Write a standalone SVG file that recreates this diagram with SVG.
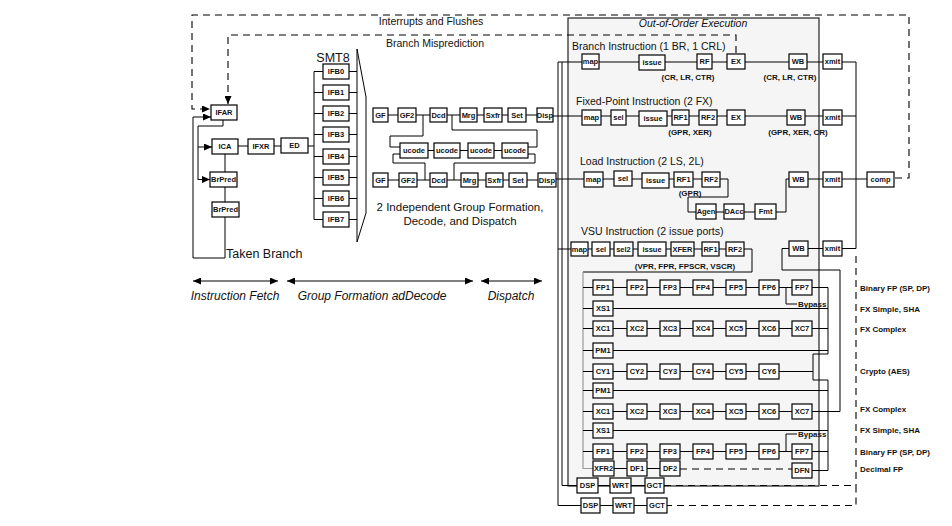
<svg xmlns="http://www.w3.org/2000/svg" width="952" height="526" viewBox="0 0 952 526">
<style>
text{font-family:"Liberation Sans",Arial,sans-serif;fill:#111}
.t{font-size:7.5px;font-weight:bold;text-anchor:middle}
.s{font-size:8px;font-weight:bold}
.sc{font-size:8px;font-weight:bold;text-anchor:middle}
.h{font-size:10.5px}
.i{font-size:12px;font-style:italic;text-anchor:middle}
.b{fill:#fff;stroke:#000;stroke-width:1.2}
.w{fill:none;stroke:#000;stroke-width:1}
.g{fill:none;stroke:#999;stroke-width:1.2}
.d{fill:none;stroke:#000;stroke-width:1.1;stroke-dasharray:7 5}
.a{marker-end:url(#ah)}
.aa{marker-start:url(#ah);marker-end:url(#ah)}
</style>
<defs>
<marker id="ah" viewBox="0 0 8 7" refX="8" refY="3.5" markerWidth="8" markerHeight="7" markerUnits="userSpaceOnUse" orient="auto-start-reverse"><path d="M0,0 L8,3.5 L0,7z" fill="#000"/></marker>
</defs>
<rect width="952" height="526" fill="#fff"/>
<rect id="ooo-box" x="568" y="18" width="251" height="468" fill="#f5f5f5" stroke="#222" stroke-width="1.2"/>
<g id="connectors">
<path class="d a" d="M895,178 H909 V15 H192 V109 H210"/>
<path class="d a" d="M736,53 V35 H228 V104"/>
<path class="w" d="M223,120 V126 H198 V180"/>
<path class="w a" d="M198,147 H212"/>
<path class="w a" d="M198,179.5 H210"/>
<path class="w" d="M225,154 V172 M225,187 V202"/>
<path class="w a" d="M225,217 V258 H193 V117 H211"/>
<path class="w" d="M238,146 H248 M274,146 H281 M308,146 H314"/>
<path class="w" d="M314,71.5 V219.5 M314,71.5 H323 M314,92.5 H323 M314,113.5 H323 M314,134.5 H323 M314,156.5 H323 M314,177.5 H323 M314,198.5 H323 M314,219.5 H323"/>
<path class="w" d="M349,71.5 H357 M349,92.5 H357 M349,113.5 H357 M349,134.5 H357 M349,156.5 H357 M349,177.5 H357 M349,198.5 H357 M349,219.5 H357"/>
<path class="w" d="M357,49 V242 M357,49 L366,97 V213 L357,242"/>
<path class="w" d="M388,115 H398 M416,115 H430 M447,115 H460 M477,115 H484 M502,115 H508 M526,115 H537"/>
<path class="w" d="M423,115 V136 H390 V147 H400"/>
<path class="w" d="M528,147 H537 V130 H452 V115"/>
<path class="w" d="M428,150.5 H434 M460,150.5 H468 M494,150.5 H502"/>
<path class="w" d="M400,154 H393 V163 H425 V180"/>
<path class="w" d="M528,154 H535 V163 H454 V180"/>
<path class="w" d="M388,180 H399 M417,180 H430 M447,180 H461 M478,180 H486 M503,180 H509 M527,180 H538"/>
<path class="w" d="M558,62 V505.5 H581 M562,62 V485.5 H577"/>
<path class="w" d="M558,62 H856 M553,116 H856 M556,179 H720 M558,249 H744"/>
<path class="w" d="M720,179 H728 V197 H688 V212 H696 M716,212 H724 M744,212 H755 M776,212 H786 V179 H789 M808,179 H867"/>
<path class="w" d="M808,248.5 H856 M856,62 V248.5"/>
<path class="w" d="M744,249 H752 V272 H583"/>
<path class="g" d="M583,272 V468.5 H593"/>
<path class="w" d="M789,248.5 H782 V270 H840 V411.5"/>
<path class="w" d="M583,287.5 H828 M786,287.5 V304 H797"/>
<path class="w" d="M583,308.5 H828 M583,328.5 H828 M583,350.5 H828"/>
<path class="w" d="M828,287.5 V354 H813 V380 H828 V470.5"/>
<path class="w" d="M583,371.5 H813 M583,390.5 H828 M583,411.5 H840 M583,430.5 H828 M583,451.5 H828 M786,451.5 V434 H797"/>
<path class="w" d="M614,468.5 H627 M647,468.5 H660 M812,470.5 H828"/>
<path class="d" d="M680,469 H792"/>
<path class="w" d="M598,485.5 H610 M631,485.5 H645 M600,505.5 H613 M634,505.5 H647"/>
<path class="d" d="M664,485.5 H856 V505.5 H667 M856,256 V485.5"/>
<path class="w aa" d="M193,281 H278"/>
<path class="w aa" d="M287,281 H473"/>
<path class="w aa" d="M481,281 H542"/>
</g>
<g id="labels">
<text class="h" x="431" y="25" text-anchor="middle">Interrupts and Flushes</text>
<text class="h" x="386" y="47">Branch Misprediction</text>
<text x="333" y="62" font-size="12.5" text-anchor="middle">SMT8</text>
<text x="226" y="258" font-size="12.5">Taken Branch</text>
<text x="460" y="211" font-size="11.5" text-anchor="middle">2 Independent Group Formation,</text>
<text x="460" y="225" font-size="11.5" text-anchor="middle">Decode, and Dispatch</text>
<text x="693" y="27" font-size="10.5" font-style="italic" text-anchor="middle">Out-of-Order Execution</text>
<text class="h" x="572" y="50">Branch Instruction (1 BR, 1 CRL)</text>
<text class="h" x="576" y="105">Fixed-Point Instruction (2 FX)</text>
<text class="h" x="580" y="165">Load Instruction (2 LS, 2L)</text>
<text class="h" x="581" y="235">VSU Instruction (2 issue ports)</text>
<text class="sc" x="688" y="80">(CR, LR, CTR)</text>
<text class="sc" x="790" y="80">(CR, LR, CTR)</text>
<text class="sc" x="690" y="135">(GPR, XER)</text>
<text class="sc" x="798" y="135">(GPR, XER, CR)</text>
<text class="sc" x="690" y="196">(GPR)</text>
<text class="sc" x="685" y="269">(VPR, FPR, FPSCR, VSCR)</text>
<text class="s" x="798" y="307">Bypass</text>
<text class="s" x="798" y="437">Bypass</text>
<text class="s" x="860" y="291">Binary FP (SP, DP)</text>
<text class="s" x="860" y="312">FX Simple, SHA</text>
<text class="s" x="860" y="332">FX Complex</text>
<text class="s" x="860" y="374">Crypto (AES)</text>
<text class="s" x="860" y="412">FX Complex</text>
<text class="s" x="860" y="433">FX Simple, SHA</text>
<text class="s" x="860" y="455">Binary FP (SP, DP)</text>
<text class="s" x="860" y="472">Decimal FP</text>
<text class="i" x="235" y="300">Instruction Fetch</text>
<text class="i" x="372" y="300">Group Formation adDecode</text>
<text class="i" x="511" y="300">Dispatch</text>
</g>
<g id="fetch">
<g id="n-ifar"><rect class="b" x="211" y="105" width="26" height="15"/><text class="t" x="224" y="115.2">IFAR</text></g>
<g id="n-ica"><rect class="b" x="212" y="139" width="26" height="15"/><text class="t" x="225" y="149.2">ICA</text></g>
<g id="n-ifxr"><rect class="b" x="248" y="139" width="26" height="15"/><text class="t" x="261" y="149.2">IFXR</text></g>
<g id="n-ed"><rect class="b" x="281" y="138" width="27" height="15"/><text class="t" x="294.5" y="148.2">ED</text></g>
<g id="n-brpred1"><rect class="b" x="210" y="172" width="27" height="15"/><text class="t" x="223.5" y="182.2">BrPred</text></g>
<g id="n-brpred2"><rect class="b" x="212" y="202" width="27" height="15"/><text class="t" x="225.5" y="212.2">BrPred</text></g>
<g id="n-ifb0"><rect class="b" x="323" y="64" width="26" height="15"/><text class="t" x="336" y="74.2">IFB0</text></g>
<g id="n-ifb1"><rect class="b" x="323" y="85" width="26" height="15"/><text class="t" x="336" y="95.2">IFB1</text></g>
<g id="n-ifb2"><rect class="b" x="323" y="106" width="26" height="15"/><text class="t" x="336" y="116.2">IFB2</text></g>
<g id="n-ifb3"><rect class="b" x="323" y="127" width="26" height="15"/><text class="t" x="336" y="137.2">IFB3</text></g>
<g id="n-ifb4"><rect class="b" x="323" y="149" width="26" height="15"/><text class="t" x="336" y="159.2">IFB4</text></g>
<g id="n-ifb5"><rect class="b" x="323" y="170" width="26" height="15"/><text class="t" x="336" y="180.2">IFB5</text></g>
<g id="n-ifb6"><rect class="b" x="323" y="191" width="26" height="15"/><text class="t" x="336" y="201.2">IFB6</text></g>
<g id="n-ifb7"><rect class="b" x="323" y="212" width="26" height="15"/><text class="t" x="336" y="222.2">IFB7</text></g>
</g>
<g id="decode">
<g id="n-gf-a"><rect class="b" x="373" y="108" width="15" height="14"/><text class="t" x="380.5" y="117.7">GF</text></g>
<g id="n-gf2-a"><rect class="b" x="398" y="108" width="18" height="14"/><text class="t" x="407" y="117.7">GF2</text></g>
<g id="n-dcd-a"><rect class="b" x="430" y="108" width="17" height="14"/><text class="t" x="438.5" y="117.7">Dcd</text></g>
<g id="n-mrg-a"><rect class="b" x="460" y="108" width="17" height="14"/><text class="t" x="468.5" y="117.7">Mrg</text></g>
<g id="n-sxfr-a"><rect class="b" x="484" y="108" width="18" height="14"/><text class="t" x="493" y="117.7">Sxfr</text></g>
<g id="n-set-a"><rect class="b" x="508" y="108" width="18" height="14"/><text class="t" x="517" y="117.7">Set</text></g>
<g id="n-disp-a"><rect class="b" x="537" y="108" width="16" height="14"/><text class="t" x="545" y="117.7">Disp</text></g>
<g id="n-ucode1"><rect class="b" x="400" y="143" width="28" height="15"/><text class="t" x="414" y="153.2">ucode</text></g>
<g id="n-ucode2"><rect class="b" x="434" y="143" width="26" height="15"/><text class="t" x="447" y="153.2">ucode</text></g>
<g id="n-ucode3"><rect class="b" x="468" y="143" width="26" height="15"/><text class="t" x="481" y="153.2">ucode</text></g>
<g id="n-ucode4"><rect class="b" x="502" y="143" width="26" height="15"/><text class="t" x="515" y="153.2">ucode</text></g>
<g id="n-gf-b"><rect class="b" x="373" y="173" width="15" height="14"/><text class="t" x="380.5" y="182.7">GF</text></g>
<g id="n-gf2-b"><rect class="b" x="399" y="173" width="18" height="14"/><text class="t" x="408" y="182.7">GF2</text></g>
<g id="n-dcd-b"><rect class="b" x="430" y="173" width="17" height="14"/><text class="t" x="438.5" y="182.7">Dcd</text></g>
<g id="n-mrg-b"><rect class="b" x="461" y="173" width="17" height="14"/><text class="t" x="469.5" y="182.7">Mrg</text></g>
<g id="n-sxfr-b"><rect class="b" x="486" y="173" width="17" height="14"/><text class="t" x="494.5" y="182.7">Sxfr</text></g>
<g id="n-set-b"><rect class="b" x="509" y="173" width="18" height="14"/><text class="t" x="518" y="182.7">Set</text></g>
<g id="n-disp-b"><rect class="b" x="538" y="173" width="18" height="14"/><text class="t" x="547" y="182.7">Disp</text></g>
</g>
<g id="branch">
<g id="n-br-map"><rect class="b" x="582" y="54" width="17" height="15"/><text class="t" x="590.5" y="64.2">map</text></g>
<g id="n-br-issue"><rect class="b" x="639" y="55" width="26" height="15"/><text class="t" x="652" y="65.2">issue</text></g>
<g id="n-br-rf"><rect class="b" x="697" y="54" width="15" height="15"/><text class="t" x="704.5" y="64.2">RF</text></g>
<g id="n-br-ex"><rect class="b" x="727" y="54" width="18" height="15"/><text class="t" x="736" y="64.2">EX</text></g>
<g id="n-br-wb"><rect class="b" x="789" y="54" width="18" height="15"/><text class="t" x="798" y="64.2">WB</text></g>
<g id="n-br-xmit"><rect class="b" x="823" y="54" width="19" height="15"/><text class="t" x="832.5" y="64.2">xmit</text></g>
</g>
<g id="fixed">
<g id="n-fx-map"><rect class="b" x="582" y="110" width="19" height="15"/><text class="t" x="591.5" y="120.2">map</text></g>
<g id="n-fx-sel"><rect class="b" x="611" y="110" width="15" height="15"/><text class="t" x="618.5" y="120.2">sel</text></g>
<g id="n-fx-issue"><rect class="b" x="639" y="111" width="28" height="15"/><text class="t" x="653" y="121.2">issue</text></g>
<g id="n-fx-rf1"><rect class="b" x="672" y="110" width="17" height="15"/><text class="t" x="680.5" y="120.2">RF1</text></g>
<g id="n-fx-rf2"><rect class="b" x="699" y="110" width="18" height="15"/><text class="t" x="708" y="120.2">RF2</text></g>
<g id="n-fx-ex"><rect class="b" x="727" y="110" width="18" height="15"/><text class="t" x="736" y="120.2">EX</text></g>
<g id="n-fx-wb"><rect class="b" x="787" y="110" width="18" height="15"/><text class="t" x="796" y="120.2">WB</text></g>
<g id="n-fx-xmit"><rect class="b" x="823" y="110" width="19" height="15"/><text class="t" x="832.5" y="120.2">xmit</text></g>
</g>
<g id="load">
<g id="n-ld-map"><rect class="b" x="584" y="172" width="19" height="15"/><text class="t" x="593.5" y="182.2">map</text></g>
<g id="n-ld-sel"><rect class="b" x="614" y="171" width="18" height="15"/><text class="t" x="623" y="181.2">sel</text></g>
<g id="n-ld-issue"><rect class="b" x="642" y="173" width="27" height="15"/><text class="t" x="655.5" y="183.2">issue</text></g>
<g id="n-ld-rf1"><rect class="b" x="674" y="172" width="19" height="15"/><text class="t" x="683.5" y="182.2">RF1</text></g>
<g id="n-ld-rf2"><rect class="b" x="702" y="172" width="18" height="15"/><text class="t" x="711" y="182.2">RF2</text></g>
<g id="n-ld-agen"><rect class="b" x="696" y="204" width="20" height="15"/><text class="t" x="706" y="214.2">Agen</text></g>
<g id="n-ld-dacc"><rect class="b" x="724" y="204" width="20" height="15"/><text class="t" x="734" y="214.2">DAcc</text></g>
<g id="n-ld-fmt"><rect class="b" x="755" y="204" width="21" height="15"/><text class="t" x="765.5" y="214.2">Fmt</text></g>
<g id="n-ld-wb"><rect class="b" x="789" y="172" width="19" height="15"/><text class="t" x="798.5" y="182.2">WB</text></g>
<g id="n-ld-xmit"><rect class="b" x="823" y="172" width="19" height="15"/><text class="t" x="832.5" y="182.2">xmit</text></g>
<g id="n-comp"><rect class="b" x="867" y="172" width="27" height="15"/><text class="t" x="880.5" y="182.2">comp</text></g>
</g>
<g id="vsu">
<g id="n-v-map"><rect class="b" x="571" y="242" width="17" height="14"/><text class="t" x="579.5" y="251.7">map</text></g>
<g id="n-v-sel"><rect class="b" x="592" y="242" width="18" height="14"/><text class="t" x="601" y="251.7">sel</text></g>
<g id="n-v-sel2"><rect class="b" x="614" y="242" width="19" height="14"/><text class="t" x="623.5" y="251.7">sel2</text></g>
<g id="n-v-issue"><rect class="b" x="638" y="242" width="28" height="14"/><text class="t" x="652" y="251.7">issue</text></g>
<g id="n-v-xfer"><rect class="b" x="671" y="242" width="23" height="14"/><text class="t" x="682.5" y="251.7">XFER</text></g>
<g id="n-v-rf1"><rect class="b" x="702" y="242" width="17" height="14"/><text class="t" x="710.5" y="251.7">RF1</text></g>
<g id="n-v-rf2"><rect class="b" x="726" y="242" width="18" height="14"/><text class="t" x="735" y="251.7">RF2</text></g>
<g id="n-v-wb"><rect class="b" x="789" y="241" width="19" height="15"/><text class="t" x="798.5" y="251.2">WB</text></g>
<g id="n-v-xmit"><rect class="b" x="823" y="241" width="19" height="15"/><text class="t" x="832.5" y="251.2">xmit</text></g>
</g>
<g id="pipes-upper">
<g id="n-fp1-u"><rect class="b" x="593" y="280" width="20" height="15"/><text class="t" x="603" y="290.2">FP1</text></g>
<g id="n-fp2-u"><rect class="b" x="627" y="280" width="20" height="15"/><text class="t" x="637" y="290.2">FP2</text></g>
<g id="n-fp3-u"><rect class="b" x="660" y="280" width="20" height="15"/><text class="t" x="670" y="290.2">FP3</text></g>
<g id="n-fp4-u"><rect class="b" x="693" y="280" width="20" height="15"/><text class="t" x="703" y="290.2">FP4</text></g>
<g id="n-fp5-u"><rect class="b" x="726" y="280" width="20" height="15"/><text class="t" x="736" y="290.2">FP5</text></g>
<g id="n-fp6-u"><rect class="b" x="759" y="280" width="20" height="15"/><text class="t" x="769" y="290.2">FP6</text></g>
<g id="n-fp7-u"><rect class="b" x="792" y="280" width="20" height="15"/><text class="t" x="802" y="290.2">FP7</text></g>
<g id="n-xs1-u"><rect class="b" x="593" y="301" width="20" height="15"/><text class="t" x="603" y="311.2">XS1</text></g>
<g id="n-xc1-u"><rect class="b" x="593" y="321" width="20" height="15"/><text class="t" x="603" y="331.2">XC1</text></g>
<g id="n-xc2-u"><rect class="b" x="627" y="321" width="20" height="15"/><text class="t" x="637" y="331.2">XC2</text></g>
<g id="n-xc3-u"><rect class="b" x="660" y="321" width="20" height="15"/><text class="t" x="670" y="331.2">XC3</text></g>
<g id="n-xc4-u"><rect class="b" x="693" y="321" width="20" height="15"/><text class="t" x="703" y="331.2">XC4</text></g>
<g id="n-xc5-u"><rect class="b" x="726" y="321" width="20" height="15"/><text class="t" x="736" y="331.2">XC5</text></g>
<g id="n-xc6-u"><rect class="b" x="759" y="321" width="20" height="15"/><text class="t" x="769" y="331.2">XC6</text></g>
<g id="n-xc7-u"><rect class="b" x="792" y="321" width="20" height="15"/><text class="t" x="802" y="331.2">XC7</text></g>
<g id="n-pm1-u"><rect class="b" x="593" y="343" width="20" height="15"/><text class="t" x="603" y="353.2">PM1</text></g>
<g id="n-cy1"><rect class="b" x="593" y="364" width="20" height="15"/><text class="t" x="603" y="374.2">CY1</text></g>
<g id="n-cy2"><rect class="b" x="627" y="364" width="20" height="15"/><text class="t" x="637" y="374.2">CY2</text></g>
<g id="n-cy3"><rect class="b" x="660" y="364" width="20" height="15"/><text class="t" x="670" y="374.2">CY3</text></g>
<g id="n-cy4"><rect class="b" x="693" y="364" width="20" height="15"/><text class="t" x="703" y="374.2">CY4</text></g>
<g id="n-cy5"><rect class="b" x="726" y="364" width="20" height="15"/><text class="t" x="736" y="374.2">CY5</text></g>
<g id="n-cy6"><rect class="b" x="759" y="364" width="20" height="15"/><text class="t" x="769" y="374.2">CY6</text></g>
</g>
<g id="pipes-lower">
<g id="n-pm1-l"><rect class="b" x="593" y="383" width="20" height="15"/><text class="t" x="603" y="393.2">PM1</text></g>
<g id="n-xc1-l"><rect class="b" x="593" y="404" width="20" height="15"/><text class="t" x="603" y="414.2">XC1</text></g>
<g id="n-xc2-l"><rect class="b" x="627" y="404" width="20" height="15"/><text class="t" x="637" y="414.2">XC2</text></g>
<g id="n-xc3-l"><rect class="b" x="660" y="404" width="20" height="15"/><text class="t" x="670" y="414.2">XC3</text></g>
<g id="n-xc4-l"><rect class="b" x="693" y="404" width="20" height="15"/><text class="t" x="703" y="414.2">XC4</text></g>
<g id="n-xc5-l"><rect class="b" x="726" y="404" width="20" height="15"/><text class="t" x="736" y="414.2">XC5</text></g>
<g id="n-xc6-l"><rect class="b" x="759" y="404" width="20" height="15"/><text class="t" x="769" y="414.2">XC6</text></g>
<g id="n-xc7-l"><rect class="b" x="792" y="404" width="20" height="15"/><text class="t" x="802" y="414.2">XC7</text></g>
<g id="n-xs1-l"><rect class="b" x="593" y="423" width="20" height="15"/><text class="t" x="603" y="433.2">XS1</text></g>
<g id="n-fp1-l"><rect class="b" x="593" y="444" width="20" height="15"/><text class="t" x="603" y="454.2">FP1</text></g>
<g id="n-fp2-l"><rect class="b" x="627" y="444" width="20" height="15"/><text class="t" x="637" y="454.2">FP2</text></g>
<g id="n-fp3-l"><rect class="b" x="660" y="444" width="20" height="15"/><text class="t" x="670" y="454.2">FP3</text></g>
<g id="n-fp4-l"><rect class="b" x="693" y="444" width="20" height="15"/><text class="t" x="703" y="454.2">FP4</text></g>
<g id="n-fp5-l"><rect class="b" x="726" y="444" width="20" height="15"/><text class="t" x="736" y="454.2">FP5</text></g>
<g id="n-fp6-l"><rect class="b" x="759" y="444" width="20" height="15"/><text class="t" x="769" y="454.2">FP6</text></g>
<g id="n-fp7-l"><rect class="b" x="792" y="444" width="20" height="15"/><text class="t" x="802" y="454.2">FP7</text></g>
<g id="n-xfr2"><rect class="b" x="593" y="461" width="21" height="15"/><text class="t" x="603.5" y="471.2">XFR2</text></g>
<g id="n-df1"><rect class="b" x="627" y="461" width="20" height="15"/><text class="t" x="637" y="471.2">DF1</text></g>
<g id="n-df2"><rect class="b" x="660" y="461" width="20" height="15"/><text class="t" x="670" y="471.2">DF2</text></g>
<g id="n-dfn"><rect class="b" x="792" y="463" width="20" height="15"/><text class="t" x="802" y="473.2">DFN</text></g>
</g>
<g id="completion">
<g id="n-dsp1"><rect class="b" x="577" y="478" width="21" height="15"/><text class="t" x="587.5" y="488.2">DSP</text></g>
<g id="n-wrt1"><rect class="b" x="610" y="478" width="21" height="15"/><text class="t" x="620.5" y="488.2">WRT</text></g>
<g id="n-gct1"><rect class="b" x="645" y="478" width="19" height="15"/><text class="t" x="654.5" y="488.2">GCT</text></g>
<g id="n-dsp2"><rect class="b" x="581" y="498" width="19" height="15"/><text class="t" x="590.5" y="508.2">DSP</text></g>
<g id="n-wrt2"><rect class="b" x="613" y="498" width="21" height="15"/><text class="t" x="623.5" y="508.2">WRT</text></g>
<g id="n-gct2"><rect class="b" x="647" y="498" width="20" height="15"/><text class="t" x="657" y="508.2">GCT</text></g>
</g>
</svg>
